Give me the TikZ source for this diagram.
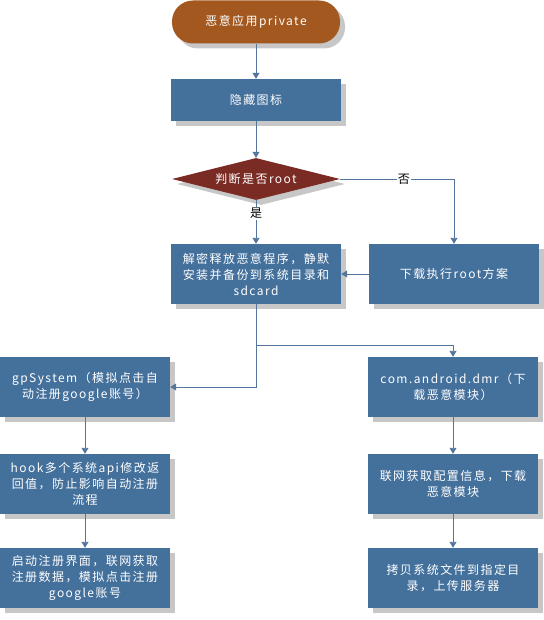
\documentclass[tikz,border=0pt]{standalone}
\usepackage{fontspec}
\newfontfamily\cjk{Noto Sans CJK SC}[LetterSpace=12]
\newfontfamily\cjklbl{Noto Sans CJK SC}
\usetikzlibrary{arrows.meta,shapes.geometric,shadows}
\definecolor{boxblue}{HTML}{44709C}
\definecolor{termbrown}{HTML}{A2581E}
\definecolor{decred}{HTML}{7A2B23}
\definecolor{linecol}{HTML}{54769C}

\begin{document}
\begin{tikzpicture}
[x=1pt,y=-1pt
,sh/.style={drop shadow={shadow xshift=5pt,shadow yshift=-5pt,fill=black!22,opacity=1}}
,bx/.style={rectangle,fill=boxblue,text=white,sh,minimum width=170pt,minimum height=60pt,inner sep=2pt,align=center,font=\cjk\fontsize{12}{16}\selectfont}
,term/.style={bx,rounded corners=21pt,fill=termbrown,minimum width=168pt,minimum height=43pt}
,cond/.style={diamond,aspect=4,fill=decred,text=white,sh,inner sep=0pt,minimum width=168pt,minimum height=42pt,font=\cjk\fontsize{12}{16}\selectfont}
,be/.style={draw=linecol,line width=0.9pt,arrows={-Triangle[width=7pt,length=6pt]}}
,lbl/.style={fill=white,inner sep=1pt,text=black,font=\cjklbl\fontsize{12}{14}\selectfont}]
\useasboundingbox (0,0) rectangle (543,620);
\node[term] (start) at (256,22) {恶意应用private};
\node[bx,minimum height=42pt] (hide) at (256,100) {隐藏图标};
\node[cond] (root) at (256,179) {判断是否root};
\node[bx] (drop) at (256,274) {解密释放恶意程序，静默\\安装并备份到系统目录和\\sdcard};
\node[bx] (dl) at (454,274) {下载执行root方案};
\node[bx] (gp) at (85,387) {gpSystem（模拟点击自\\动注册google账号）};
\node[bx] (hook) at (85,484) {hook多个系统api修改返\\回值，防止影响自动注册\\流程};
\node[bx] (reg) at (85,578) {启动注册界面，联网获取\\注册数据，模拟点击注册\\google账号};
\node[bx] (dmr) at (453,387) {com.android.dmr（下\\载恶意模块）};
\node[bx] (cfg) at (453,484) {联网获取配置信息，下载\\恶意模块};
\node[bx] (up) at (453,578) {拷贝系统文件到指定目\\录，上传服务器};
\coordinate (br) at (256,345);
\draw[be] (start) -- (hide);
\draw[be] (hide) -- (root);
\draw[be] (root) -- node[lbl,pos=0.3] (yes) {是} (drop);
\draw[be] (root) -| node[lbl,pos=0.28] (no) {否} (dl);
\draw[be] (dl) -- (drop);
\draw[be] (drop) |- (gp);
\draw[be] (br) -| (dmr);
\draw[be] (gp) -- (hook);
\draw[be] (hook) -- (reg);
\draw[be] (dmr) -- (cfg);
\draw[be] (cfg) -- (up);
\end{tikzpicture}
\end{document}
